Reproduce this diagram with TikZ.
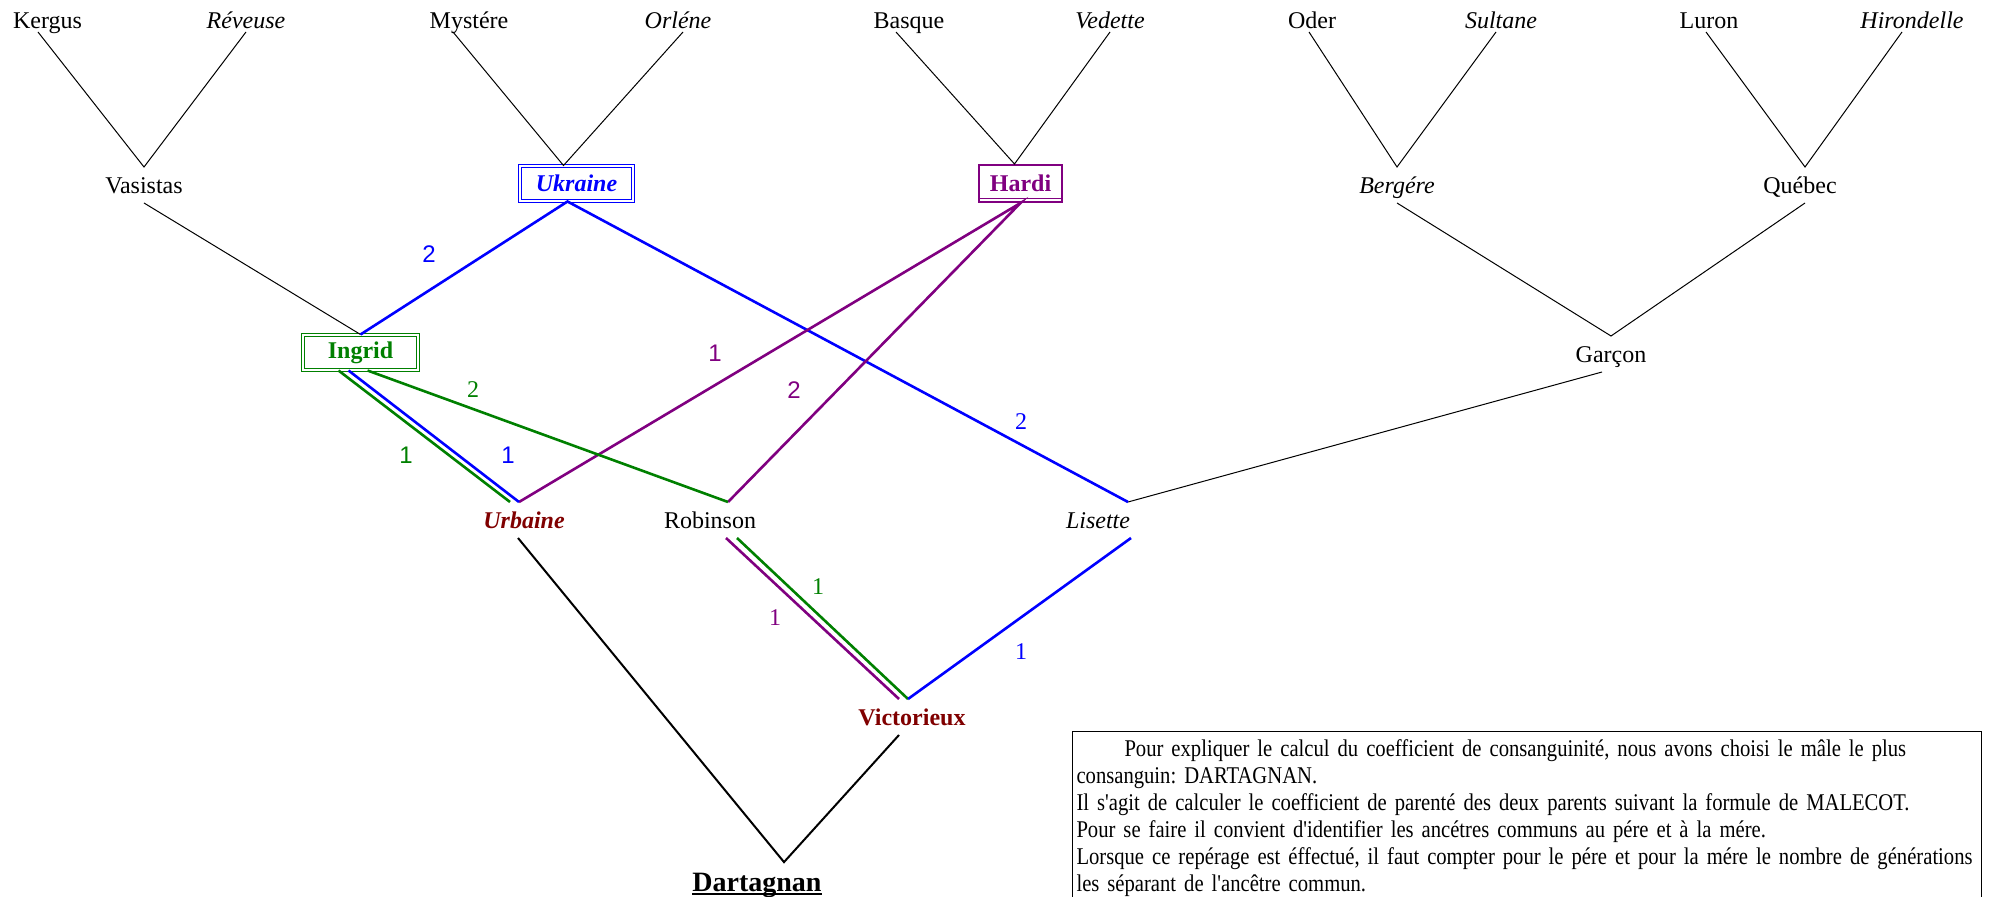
\documentclass[tikz,border=0pt]{standalone}
\usepackage{fontspec}
\setmainfont{Liberation Serif}
\setsansfont{Liberation Sans}
\newfontfamily\notefont{Liberation Serif}[FakeStretch=0.86]
\usetikzlibrary{calc}
\definecolor{bleuhtml}{RGB}{0,0,255}
\definecolor{verthtml}{RGB}{0,128,0}
\definecolor{violethtml}{RGB}{128,0,128}
\definecolor{bordeaux}{RGB}{128,0,0}

\begin{document}
\begin{tikzpicture}[x=0.5pt, y=-0.5pt,
    cheval/.style={inner sep=0pt, outer ysep=3.3pt, text height=9.9pt, text depth=1.5pt, font=\fontsize{12}{14}\selectfont},
    jument/.style={cheval, font=\fontsize{12}{14}\selectfont\itshape},
    haut/.style={outer ysep=0.3pt},
    commun/.style={draw, double, line width=0.7pt, double distance=0.8pt, inner sep=0pt, minimum height=17.3pt, font=\fontsize{12}{14}\selectfont\bfseries},
    trait/.style={line width=0.5pt},
    voie/.style={line width=1.3pt},
    lignee/.style={line width=1pt},
    chiffre/.style={inner sep=0pt, font=\fontsize{12}{14}\selectfont},
    chiffresf/.style={inner sep=0pt, font=\fontsize{12}{14}\selectfont\sffamily}]

    \useasboundingbox (0,0) rectangle (1989,897);

    \node(kergus)[cheval, haut] at (47.5,20){Kergus};
    \node(reveuse)[jument, haut] at (246,20){Réveuse};
    \node(mystere)[cheval, haut] at (469,20){Mystére};
    \node(orlene)[jument, haut] at (678,20){Orléne};
    \node(basque)[cheval, haut] at (909,20){Basque};
    \node(vedette)[jument, haut] at (1110,20){Vedette};
    \node(oder)[cheval, haut] at (1312,20){Oder};
    \node(sultane)[jument, haut] at (1501,20){Sultane};
    \node(luron)[cheval, haut] at (1709,20){Luron};
    \node(hirondelle)[jument, haut] at (1912,20){Hirondelle};

    \node(vasistas)[cheval] at (144,185){Vasistas};
    \node(ukraine)[commun, draw=bleuhtml, text=bleuhtml, minimum width=56.3pt, font=\fontsize{12}{14}\selectfont\bfseries\itshape] at (576.5,183.5){Ukraine};
    \node(hardi)[draw=violethtml, text=violethtml, line width=1.2pt, inner sep=0pt, minimum width=41.3pt, minimum height=18.3pt, font=\fontsize{12}{14}\selectfont\bfseries] at (1020.5,183.5){Hardi};
    \node(bergere)[jument] at (1397,185){Bergére};
    \node(quebec)[cheval] at (1800,185){Québec};

    \node(ingrid)[commun, draw=verthtml, text=verthtml, minimum width=57.3pt] at (360.5,352.5){Ingrid};
    \node(garcon)[cheval] at (1611,354){Garçon};

    \node(urbaine)[cheval, text=bordeaux, font=\fontsize{12}{14}\selectfont\bfseries\itshape] at (524,520){Urbaine};
    \node(robinson)[cheval] at (710,520){Robinson};
    \node(lisette)[jument] at (1098,520){Lisette};

    \node(victorieux)[cheval, text=bordeaux, font=\fontsize{12}{14}\selectfont\bfseries] at (912,717){Victorieux};
    \node(dartagnan)[cheval, text height=11.3pt, text depth=2pt, font=\fontsize{14}{16}\selectfont\bfseries] at (757,882){Dartagnan};

    \draw[trait] ($(kergus.south)+(-9.5,0)$) -- (vasistas.north) -- (reveuse.south);
    \draw[trait] ($(mystere.south)+(-16,0)$) -- ($(ukraine.north)+(-13,0)$) -- ($(orlene.south)+(5,0)$);
    \draw[trait] ($(basque.south)+(-13,0)$) -- ($(hardi.north)+(-6,0)$) -- (vedette.south);
    \draw[trait] ($(oder.south)+(-3,0)$) -- (bergere.north) -- ($(sultane.south)+(-5,0)$);
    \draw[trait] ($(luron.south)+(-3,0)$) -- ($(quebec.north)+(5,0)$) -- ($(hirondelle.south)+(-10,0)$);

    \draw[trait] (vasistas.south) -- (ingrid.north);
    \draw[trait] (bergere.south) -- (garcon.north) -- ($(quebec.south)+(5,0)$);
    \draw[trait] ($(garcon.south)+(-9,0)$) -- ($(lisette.north)+(30,0)$);

    \draw[voie, bleuhtml] (ingrid.north) -- ($(ukraine.south)+(-9,0)$) -- ($(lisette.north)+(30,0)$);
    \draw[voie, violethtml] ($(urbaine.north)+(-5,0)$) -- (hardi.south) -- ($(robinson.north)+(18,0)$);
    \draw[voie, verthtml] ($(ingrid.south)+(-22,0)$) -- ($(urbaine.north)+(-14,0)$);
    \draw[voie, bleuhtml] ($(ingrid.south)+(-12,0)$) -- ($(urbaine.north)+(-5,0)$);
    \draw[voie, verthtml] ($(ingrid.south)+(7,0)$) -- ($(robinson.north)+(18,0)$);
    \draw[voie, violethtml] ($(robinson.south)+(16,0)$) -- ($(victorieux.north)+(-13,0)$);
    \draw[voie, verthtml] ($(robinson.south)+(27,0)$) -- ($(victorieux.north)+(-4,0)$);
    \draw[voie, bleuhtml] ($(victorieux.north)+(-4,0)$) -- ($(lisette.south)+(33,0)$);
    \draw[lignee] ($(urbaine.south)+(-6,0)$) -- ($(dartagnan.north)+(27,0)$) -- ($(victorieux.south)+(-13,0)$);

    \draw[violethtml, line width=0.5pt] ($(hardi.south west)+(2,-4)$) -- ($(hardi.south east)+(-2,-4)$);
    \draw[line width=1pt] ($(dartagnan.base west)+(0,3)$) -- ($(dartagnan.base east)+(0,3)$);

    \node(ukringrid)[chiffresf, text=bleuhtml] at (429,254){2};
    \node(ukrlisette)[chiffre, text=bleuhtml] at (1021,422){2};
    \node(harurbaine)[chiffresf, text=violethtml] at (715,353){1};
    \node(harrobinson)[chiffresf, text=violethtml] at (794,390){2};
    \node(ingrobinson)[chiffre, text=verthtml] at (473,390){2};
    \node(ingurbainev)[chiffresf, text=verthtml] at (406,455){1};
    \node(ingurbaineb)[chiffresf, text=bleuhtml] at (508,455){1};
    \node(robvictv)[chiffre, text=verthtml] at (818,587){1};
    \node(robvictp)[chiffre, text=violethtml] at (775,618){1};
    \node(lisvict)[chiffre, text=bleuhtml] at (1021,652){1};

    \node(note)[draw, line width=0.5pt, anchor=north west, inner xsep=2pt, inner ysep=0pt, text width=450.5pt, align=left, font=\notefont\fontsize{12}{13.5}\selectfont\frenchspacing] at (1072,731){\rule{0pt}{12.5pt}\hspace*{24pt}Pour expliquer le calcul du coefficient de consanguinité, nous avons choisi le mâle le plus\\consanguin: DARTAGNAN.\\Il s'agit de calculer le coefficient de parenté des deux parents suivant la formule de MALECOT.\\Pour se faire il convient d'identifier les ancétres communs au pére et à la mére.\\Lorsque ce repérage est éffectué, il faut compter pour le pére et pour la mére le nombre de générations\\les séparant de l'ancêtre commun.\rule[-10pt]{0pt}{10pt}};

\end{tikzpicture}
\end{document}
